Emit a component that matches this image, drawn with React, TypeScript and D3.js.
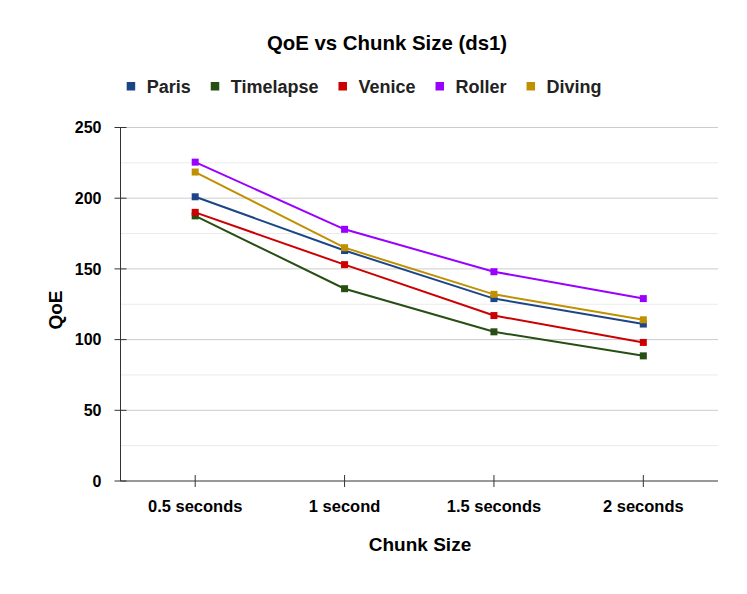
import * as d3 from 'd3';
import React, { useEffect, useRef } from 'react';

const chunkSizes = ['0.5 seconds', '1 second', '1.5 seconds', '2 seconds'];
const seriesNames = ['Paris', 'Timelapse', 'Venice', 'Roller', 'Diving'];
const seriesColors = ['#1c4587', '#274e13', '#cc0000', '#9900ff', '#bf9000'];

const paris = [201, 163, 129, 111];
const timelapse = [187.5, 136, 105.5, 88.5];
const venice = [190, 153, 117, 98];
const roller = [225.5, 178, 148, 129];
const diving = [218.5, 165, 132, 114];

const yTicks = [0, 50, 100, 150, 200, 250];
const yMinorTicks = [25, 75, 125, 175, 225];

const W = 747;
const H = 594;
const font = 'Arial, "Liberation Sans", sans-serif';

const App = () => {
  const ref = useRef<SVGSVGElement>(null);

  useEffect(() => {
    const svg = d3.select(ref.current);
    svg.selectAll('*').remove();

    const values = [paris, timelapse, venice, roller, diving];

    const margin = { left: 120.5, right: 29, top: 127.5, bottom: 113 };
    const x = d3
      .scaleBand()
      .domain(chunkSizes)
      .range([margin.left, W - margin.right]);
    const y = d3
      .scaleLinear()
      .domain([0, 250])
      .range([H - margin.bottom, margin.top]);
    const cx = (c: string) => (x(c) as number) + x.bandwidth() / 2;

    // gridlines
    svg
      .append('g')
      .selectAll('line')
      .data(yMinorTicks)
      .join('line')
      .attr('x1', margin.left)
      .attr('x2', W - margin.right)
      .attr('y1', d => y(d))
      .attr('y2', d => y(d))
      .attr('stroke', '#ebebeb')
      .attr('stroke-width', 1);
    svg
      .append('g')
      .selectAll('line')
      .data(yTicks.filter(t => t > 0))
      .join('line')
      .attr('x1', margin.left)
      .attr('x2', W - margin.right)
      .attr('y1', d => y(d))
      .attr('y2', d => y(d))
      .attr('stroke', '#cccccc')
      .attr('stroke-width', 1);

    // axes
    const axisColor = '#333333';
    svg
      .append('line')
      .attr('x1', margin.left)
      .attr('x2', margin.left)
      .attr('y1', y(250))
      .attr('y2', y(0))
      .attr('stroke', axisColor);
    svg
      .append('line')
      .attr('x1', margin.left)
      .attr('x2', W - margin.right)
      .attr('y1', y(0))
      .attr('y2', y(0))
      .attr('stroke', axisColor);

    svg
      .append('g')
      .selectAll('line')
      .data(yTicks)
      .join('line')
      .attr('x1', margin.left - 6)
      .attr('x2', margin.left + 6)
      .attr('y1', d => y(d))
      .attr('y2', d => y(d))
      .attr('stroke', axisColor);
    svg
      .append('g')
      .selectAll('text')
      .data(yTicks)
      .join('text')
      .attr('x', margin.left - 19)
      .attr('y', d => y(d))
      .attr('dy', '0.36em')
      .attr('text-anchor', 'end')
      .attr('font-family', font)
      .attr('font-weight', 'bold')
      .attr('font-size', 16)
      .attr('fill', '#000')
      .text(d => d);

    svg
      .append('g')
      .selectAll('line')
      .data(chunkSizes)
      .join('line')
      .attr('x1', d => cx(d))
      .attr('x2', d => cx(d))
      .attr('y1', y(0) - 6)
      .attr('y2', y(0) + 6)
      .attr('stroke', axisColor);
    svg
      .append('g')
      .selectAll('text')
      .data(chunkSizes)
      .join('text')
      .attr('x', d => cx(d))
      .attr('y', 512)
      .attr('text-anchor', 'middle')
      .attr('font-family', font)
      .attr('font-weight', 'bold')
      .attr('font-size', 16.5)
      .attr('fill', '#000')
      .text(d => d);

    // axis titles
    svg
      .append('text')
      .attr('x', 420)
      .attr('y', 551)
      .attr('text-anchor', 'middle')
      .attr('font-family', font)
      .attr('font-weight', 'bold')
      .attr('font-size', 19)
      .attr('fill', '#000')
      .text('Chunk Size');
    svg
      .append('text')
      .attr('transform', 'translate(61.5,310) rotate(-90)')
      .attr('text-anchor', 'middle')
      .attr('font-family', font)
      .attr('font-weight', 'bold')
      .attr('font-size', 19)
      .attr('fill', '#000')
      .text('QoE');

    // title
    svg
      .append('text')
      .attr('x', 387)
      .attr('y', 50)
      .attr('text-anchor', 'middle')
      .attr('font-family', font)
      .attr('font-weight', 'bold')
      .attr('font-size', 20.4)
      .attr('fill', '#000')
      .text('QoE vs Chunk Size (ds1)');

    // lines and markers
    const line = d3
      .line<number>()
      .x((_, i) => cx(chunkSizes[i]))
      .y(d => y(d));

    values.forEach((vals, s) => {
      const g = svg.append('g');
      g.append('path')
        .attr('d', line(vals))
        .attr('fill', 'none')
        .attr('stroke', seriesColors[s])
        .attr('stroke-width', 2);
      g.selectAll('rect')
        .data(vals)
        .join('rect')
        .attr('x', (_, i) => cx(chunkSizes[i]) - 3.5)
        .attr('y', d => y(d) - 3.5)
        .attr('width', 7)
        .attr('height', 7)
        .attr('fill', seriesColors[s]);
    });

    // legend
    const legend = svg.append('g');
    let lx = 126.7;
    seriesNames.forEach((name, s) => {
      legend
        .append('rect')
        .attr('x', lx)
        .attr('y', 82)
        .attr('width', 8.5)
        .attr('height', 8.5)
        .attr('fill', seriesColors[s]);
      const t = legend
        .append('text')
        .attr('x', lx + 20)
        .attr('y', 93)
        .attr('font-family', font)
        .attr('font-weight', 'bold')
        .attr('font-size', 18)
        .attr('fill', '#222222')
        .text(name);
      const tw = (t.node() as SVGTextElement).getComputedTextLength();
      lx += 20 + tw + 20;
    });
  }, []);

  return (
    <svg
      ref={ref}
      width={W}
      height={H}
      style={{ display: 'block', position: 'absolute', left: 0, top: 0, background: '#fff' }}
    />
  );
};

export default App;
